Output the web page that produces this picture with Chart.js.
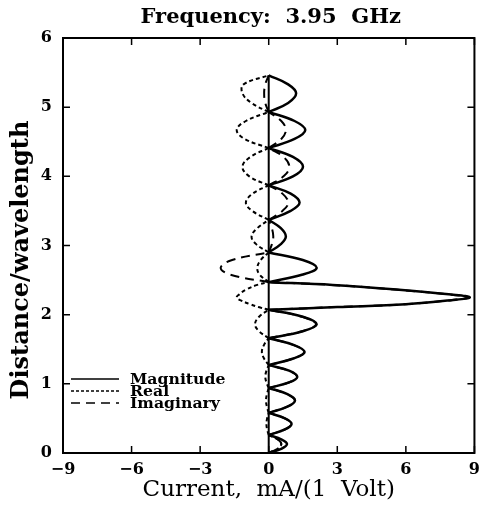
<!DOCTYPE html>
<html>
<head>
<meta charset="utf-8">
<script src="https://cdn.jsdelivr.net/npm/chart.js@4.4.0/dist/chart.umd.min.js"></script>
<style>
  html, body { margin: 0; padding: 0; background: #fff; }
  #chart { display: block; }
</style>
</head>
<body>
<canvas id="chart" width="487" height="510"></canvas>
<script>
// distance along the wire (wavelengths); null = break between lobes
const distance = [
  0, 0.065, 0.13, 0.195, 0.26, null,
  0.26, 0.34, 0.42, 0.50, 0.58, null,
  0.58, 0.67, 0.76, 0.85, 0.94, null,
  0.94, 1.02, 1.10, 1.19, 1.27, null,
  1.27, 1.37, 1.46, 1.56, 1.66, null,
  1.66, 1.76, 1.86, 1.97, 2.07, null,
  2.07, 2.11, 2.15, 2.21, 2.25, 2.29, 2.36, 2.43, 2.47, null,
  2.47, 2.58, 2.68, 2.79, 2.90, null,
  2.90, 3.02, 3.13, 3.25, 3.37, null,
  3.37, 3.50, 3.62, 3.75, 3.87, null,
  3.87, 4.00, 4.14, 4.28, 4.41, null,
  4.41, 4.54, 4.67, 4.80, 4.93, null,
  4.93, 5.06, 5.20, 5.33, 5.46
];

// current, mA per volt
const magnitude = [
  0, 0.57, 0.8, 0.57, 0, null,
  0, 0.71, 1.0, 0.71, 0, null,
  0, 0.82, 1.15, 0.82, 0, null,
  0, 0.89, 1.25, 0.89, 0, null,
  0, 1.11, 1.57, 1.11, 0, null,
  0, 1.49, 2.1, 1.49, 0, null,
  0, 3.0, 6.0, 8.0, 8.8, 8.0, 5.7, 2.8, 0, null,
  0, 1.49, 2.1, 1.49, 0, null,
  0, 0.53, 0.75, 0.53, 0, null,
  0, 0.96, 1.35, 0.96, 0, null,
  0, 1.06, 1.5, 1.06, 0, null,
  0, 1.13, 1.6, 1.13, 0, null,
  0, 0.85, 1.2, 0.85, 0
];

const real = [
  0, 0.4, 0.55, 0.4, 0, null,
  0, -0.07, -0.1, -0.07, 0, null,
  0, -0.08, -0.12, -0.08, 0, null,
  0, -0.1, -0.15, -0.1, 0, null,
  0, -0.21, -0.3, -0.21, 0, null,
  0, -0.42, -0.6, -0.42, 0, null,
  0, -0.45, -0.8, -1.25, -1.4, -1.3, -1.0, -0.5, 0, null,
  0, -0.4, -0.5, -0.35, 0, null,
  0, -0.55, -0.75, -0.5, 0, null,
  0, -0.72, -1.0, -0.7, 0, null,
  0, -0.85, -1.15, -0.8, 0, null,
  0, -1.05, -1.4, -1.0, 0, null,
  0, -0.75, -1.15, -1.1, 0
];

const imaginary = [
  0, 0.4, 0.55, 0.4, 0, null,
  0, 0.7, 0.99, 0.7, 0, null,
  0, 0.81, 1.14, 0.81, 0, null,
  0, 0.88, 1.24, 0.88, 0, null,
  0, 1.1, 1.55, 1.1, 0, null,
  0, 1.46, 2.07, 1.46, 0, null,
  0, 2.95, 5.95, 7.95, 8.75, 7.95, 5.65, 2.75, 0, null,
  0, -1.7, -2.1, -1.6, 0, null,
  0, 0.14, 0.2, 0.14, 0, null,
  0, 0.6, 0.85, 0.6, 0, null,
  0, 0.65, 0.9, 0.65, 0, null,
  0, 0.55, 0.75, 0.55, 0, null,
  0, -0.15, -0.2, -0.15, 0
];

// the wire itself, drawn on the zero line
const wireDist = [0, 5.46];
const wireCur = [0, 0];

const xTicks = [-9, -6, -3, 0, 3, 6, 9];
const yTicks = [0, 1, 2, 3, 4, 5, 6];

const chartTitle = 'Frequency:  3.95  GHz';
const yTitle = 'Distance/wavelength';

const serif = "'DejaVu Serif', 'Liberation Serif', serif";

function pts(xs, ys) {
  return ys.map((d, i) => (d === null || xs[i] === null) ? { x: null, y: null } : { x: xs[i], y: d });
}

// black frame with inward tick marks
const frame = {
  id: 'frame',
  afterDraw(chart) {
    const { ctx, chartArea: a, scales } = chart;
    ctx.save();
    ctx.strokeStyle = '#000';
    ctx.lineWidth = 2;
    ctx.strokeRect(a.left, a.top, a.right - a.left, a.bottom - a.top);
    ctx.lineWidth = 1.5;
    ctx.beginPath();
    xTicks.forEach(v => {
      const px = scales.x.getPixelForValue(v);
      ctx.moveTo(px, a.bottom); ctx.lineTo(px, a.bottom - 7);
      ctx.moveTo(px, a.top); ctx.lineTo(px, a.top + 7);
    });
    yTicks.forEach(v => {
      const py = scales.y.getPixelForValue(v);
      ctx.moveTo(a.left, py); ctx.lineTo(a.left + 7, py);
      ctx.moveTo(a.right, py); ctx.lineTo(a.right - 7, py);
    });
    ctx.stroke();
    ctx.restore();
  }
};

// title over the plot and the vertical axis title
const titles = {
  id: 'titles',
  afterDraw(chart) {
    const { ctx, chartArea: a } = chart;
    ctx.save();
    ctx.fillStyle = '#000';
    ctx.textAlign = 'center';
    ctx.textBaseline = 'middle';
    ctx.font = 'bold 21px ' + serif;
    ctx.fillText(chartTitle, (a.left + a.right) / 2 + 2, 18);
    ctx.translate(22, 260);
    ctx.rotate(-Math.PI / 2);
    ctx.font = 'bold 24px ' + serif;
    ctx.fillText(yTitle, 0, 0);
    ctx.restore();
  }
};

// legend in the lower left corner of the plot
const cornerLegend = {
  id: 'cornerLegend',
  afterDraw(chart) {
    const { ctx, chartArea: a } = chart;
    const items = chart.data.datasets.filter(ds => ds.inLegend);
    ctx.save();
    ctx.font = 'bold 14px ' + serif;
    ctx.textBaseline = 'middle';
    ctx.fillStyle = '#000';
    items.forEach((ds, i) => {
      const y = a.bottom - 74 + i * 12;
      ctx.strokeStyle = '#000';
      ctx.lineWidth = 1.5;
      ctx.setLineDash(ds.legendDash);
      ctx.beginPath();
      ctx.moveTo(a.left + 8, y);
      ctx.lineTo(a.left + 56, y);
      ctx.stroke();
      ctx.setLineDash([]);
      ctx.save();
      ctx.translate(a.left + 67, y + 1);
      ctx.scale(1.12, 1);
      ctx.fillText(ds.label, 0, 0);
      ctx.restore();
    });
    ctx.restore();
  }
};

new Chart(document.getElementById('chart'), {
  type: 'scatter',
  data: {
    datasets: [
      {
        label: 'Magnitude',
        data: pts(magnitude, distance),
        showLine: true, borderColor: '#000', borderWidth: 2.5,
        tension: 0.4, pointRadius: 0,
        inLegend: true, legendDash: []
      },
      {
        label: 'Real',
        data: pts(real, distance),
        showLine: true, borderColor: '#000', borderWidth: 2,
        borderDash: [4, 3], tension: 0.4, pointRadius: 0,
        inLegend: true, legendDash: [3, 2]
      },
      {
        label: 'Imaginary',
        data: pts(imaginary, distance),
        showLine: true, borderColor: '#000', borderWidth: 2,
        borderDash: [9, 6], tension: 0.4, pointRadius: 0,
        inLegend: true, legendDash: [9, 6]
      },
      {
        label: 'wire',
        data: pts(wireCur, wireDist),
        showLine: true, borderColor: '#000', borderWidth: 2,
        pointRadius: 0
      }
    ]
  },
  options: {
    responsive: false,
    animation: false,
    layout: { padding: { top: 38, right: 12, left: 0, bottom: 0 } },
    plugins: {
      legend: { display: false },
      tooltip: { enabled: false },
      title: { display: false }
    },
    scales: {
      x: {
        type: 'linear',
        min: -9, max: 9,
        afterFit(scale) { scale.height = 57; },
        afterBuildTicks(scale) { scale.ticks = xTicks.map(v => ({ value: v })); },
        grid: { display: false, drawTicks: false },
        border: { display: false },
        ticks: {
          color: '#000', padding: 7,
          font: { family: serif, size: 16, weight: 'bold' },
          callback: v => String(v).replace('-', '\u2212')
        },
        title: {
          display: true,
          text: 'Current,  mA/(1  Volt)',
          color: '#000',
          font: { family: serif, size: 23 },
          padding: { top: 0, bottom: 6 }
        }
      },
      y: {
        type: 'linear',
        min: 0, max: 6,
        afterFit(scale) { scale.width = 63; },
        afterBuildTicks(scale) { scale.ticks = yTicks.map(v => ({ value: v })); },
        grid: { display: false, drawTicks: false },
        border: { display: false },
        ticks: {
          color: '#000', padding: 11,
          font: { family: serif, size: 16, weight: 'bold' }
        },
        title: { display: false }
      }
    }
  },
  plugins: [frame, titles, cornerLegend]
});
</script>
</body>
</html>
